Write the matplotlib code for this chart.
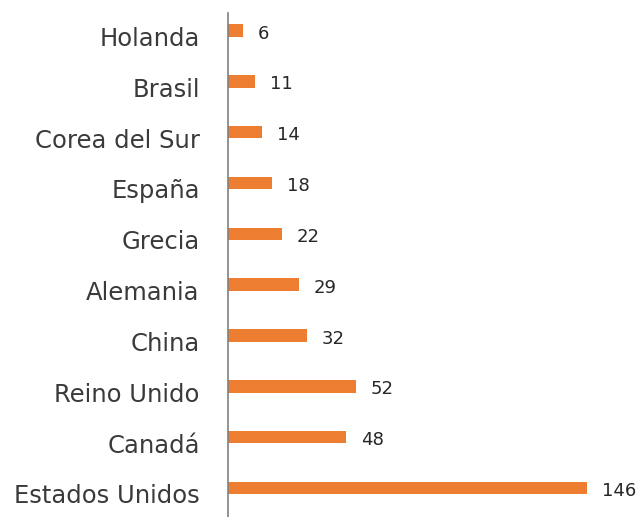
import matplotlib
matplotlib.use("Agg")
import matplotlib.pyplot as plt
from matplotlib.transforms import ScaledTranslation

countries = ["Holanda", "Brasil", "Corea del Sur", "España", "Grecia",
             "Alemania", "China", "Reino Unido", "Canadá", "Estados Unidos"]
values = [6, 11, 14, 18, 22, 29, 32, 52, 48, 146]

W, H = 641, 517
fig = plt.figure(figsize=(W / 100, H / 100), dpi=100)
ax = fig.add_axes([228 / W, 0, 1 - 228 / W, 1 - 13 / H])

ypos = list(range(len(countries)))
ax.barh(ypos, values, height=0.246, color="#ED7D31")
ax.set_xlim(0, (W - 228) / 2.459)
ax.set_ylim(9 + 0.57, -0.344)

for y, v in zip(ypos, values):
    ax.annotate(str(v), (v, y), xytext=(10.5, -2.2), textcoords="offset points",
                va="center", ha="left", fontsize=13, color="#262626")

ax.set_yticks(ypos)
ax.set_yticklabels(countries, fontsize=17.5, color="#3a3a3a")
ax.tick_params(axis="y", length=0, pad=20.4)
shift = ScaledTranslation(0, -4.3 / 72, fig.dpi_scale_trans)
for lab in ax.get_yticklabels():
    lab.set_transform(lab.get_transform() + shift)
ax.set_xticks([])
for s in ["top", "right", "bottom"]:
    ax.spines[s].set_visible(False)
ax.spines["left"].set_color("#808080")
ax.spines["left"].set_linewidth(1.2)

fig.savefig("out.png", dpi=100)
